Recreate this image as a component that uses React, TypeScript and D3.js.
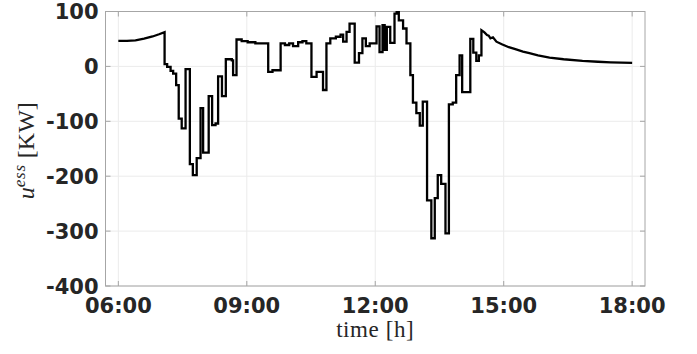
import React from "react";
import * as d3 from "d3";

// Battery (ESS) power set-point over the day, hours as decimals.
const rampTimes = [6.0, 6.2, 6.4, 6.6, 6.8, 6.95, 7.08];
const rampValues = [46.5, 46.5, 47.5, 50.5, 54.5, 58.5, 62.5];

const stepTimes = [
  7.08, 7.14, 7.22, 7.28, 7.35, 7.41, 7.48, 7.57, 7.67, 7.74, 7.83, 7.92, 7.98, 8.11, 8.19, 8.27,
  8.33, 8.42, 8.51, 8.65, 8.68, 8.76, 8.88, 9.02, 9.2, 9.5, 9.6, 9.79, 9.89, 9.99, 10.08, 10.2,
  10.3, 10.39, 10.51, 10.63, 10.78, 10.86, 10.95, 11.08, 11.19, 11.25, 11.33, 11.4, 11.52, 11.62,
  11.7, 11.78, 11.87, 12.03, 12.1, 12.17, 12.22, 12.27, 12.35, 12.45, 12.5, 12.55, 12.65, 12.73,
  12.82, 12.88, 12.96, 13.04, 13.11, 13.21, 13.31, 13.39, 13.46, 13.54, 13.64, 13.72, 13.81,
  13.89, 13.97, 14.03, 14.22, 14.29, 14.36, 14.42,
];
const stepLevels = [
  4, -1, -8, -13, -34, -95, -113, -5, -178, -198, -167, -76, -157, -54, -107, -104,
  -18, -54, 13, 11, -16, 49, 46, 44, 42, -10, -7, 42, 39, 42, 37, 44,
  46, 42, -19, -10, -43, 42, 51, 54, 58, 45, 63, 78, 7, 24,
  51, 37, 42, 73, 26, 75, 30, 72, 43, 96, 99, 84, 69, 42,
  -16, -66, -85, -108, -64, -244, -313, -240, -198, -214, -304, -69, -66,
  -16, 20, -47, 50, 25, 10, 20,
];

const tailTimes = [14.48, 14.55, 14.61, 14.65, 14.69, 14.75, 14.83, 14.97, 15.12, 15.29, 15.45, 15.6, 15.8, 16.07, 16.4, 16.84, 17.2, 17.5, 18.0];
const tailValues = [66, 62, 57, 56, 51, 53, 45, 40, 35, 31, 27, 24, 20, 16, 13, 10, 8.5, 7.5, 6.5];

const xTicks = [6, 9, 12, 15, 18];
const xTickLabels = ["06:00", "09:00", "12:00", "15:00", "18:00"];
const yTicks = [-400, -300, -200, -100, 0, 100];

const W = 697;
const H = 354;
const left = 105.5;
const right = 645;
const top = 11.5;
const bottom = 286;

export default function App() {
  const x = d3.scaleLinear().domain([5.7, 18.3]).range([left, right]);
  const y = d3.scaleLinear().domain([-400, 100]).range([bottom, top]);

  const pts: [number, number][] = [];
  rampTimes.forEach((t, i) => pts.push([t, rampValues[i]]));
  stepTimes.forEach((t, i) => {
    const next = i + 1 < stepTimes.length ? stepTimes[i + 1] : tailTimes[0];
    pts.push([t, stepLevels[i]]);
    pts.push([next, stepLevels[i]]);
  });
  tailTimes.forEach((t, i) => pts.push([t, tailValues[i]]));

  const line = d3
    .line<[number, number]>()
    .x((d) => x(d[0]))
    .y((d) => y(d[1]));

  const axisColor = "#a6a6a6";
  const gridColor = "#ebebeb";
  const tickFont = {
    fontFamily: "DejaVu Sans, sans-serif",
    fontWeight: "bold" as const,
    fontSize: 21,
    fill: "#262626",
  };

  return (
    <svg
      width={W}
      height={H}
      style={{ position: "fixed", left: 0, top: 0, background: "#fff" }}
    >
      <rect x={0} y={0} width={W} height={H} fill="#fff" />
      {/* grid */}
      {xTicks.map((t) => (
        <line key={"gx" + t} x1={x(t)} x2={x(t)} y1={top} y2={bottom} stroke={gridColor} strokeWidth={1} />
      ))}
      {yTicks.map((t) => (
        <line key={"gy" + t} x1={left} x2={right} y1={y(t)} y2={y(t)} stroke={gridColor} strokeWidth={1} />
      ))}
      {/* inward ticks on all four sides */}
      {xTicks.map((t) => (
        <g key={"tx" + t} stroke={axisColor} strokeWidth={1}>
          <line x1={x(t)} x2={x(t)} y1={bottom} y2={bottom - 5} />
          <line x1={x(t)} x2={x(t)} y1={top} y2={top + 5} />
        </g>
      ))}
      {yTicks.map((t) => (
        <g key={"ty" + t} stroke={axisColor} strokeWidth={1}>
          <line x1={left} x2={left + 5} y1={y(t)} y2={y(t)} />
          <line x1={right} x2={right - 5} y1={y(t)} y2={y(t)} />
        </g>
      ))}
      <rect x={left} y={top} width={right - left} height={bottom - top} fill="none" stroke={axisColor} strokeWidth={1} />

      {/* data */}
      <path d={line(pts) || ""} fill="none" stroke="#000" strokeWidth={2.3} strokeLinejoin="miter" />

      {/* tick labels */}
      {yTicks.map((t) => (
        <text key={"ly" + t} x={left - 7} y={y(t) + 7.6} textAnchor="end" {...tickFont}>
          {t}
        </text>
      ))}
      {xTicks.map((t, i) => (
        <text key={"lx" + t} x={x(t)} y={313} textAnchor="middle" {...tickFont}>
          {xTickLabels[i]}
        </text>
      ))}

      {/* axis titles */}
      <text
        x={(left + right) / 2}
        y={337}
        textAnchor="middle"
        fontFamily="Liberation Serif, serif"
        fontSize={23}
        letterSpacing={0.6}
        fill="#262626"
      >
        time [h]
      </text>
      <text
        transform={`translate(34,${(top + bottom) / 2 + 2}) rotate(-90)`}
        textAnchor="middle"
        fontFamily="Liberation Serif, serif"
        fontSize={24}
        fill="#262626"
      >
        <tspan fontStyle="italic">u</tspan>
        <tspan fontStyle="italic" fontSize={17} dy={-9} letterSpacing={0.8}>ess</tspan>
        <tspan dy={9}> [KW]</tspan>
      </text>
    </svg>
  );
}
